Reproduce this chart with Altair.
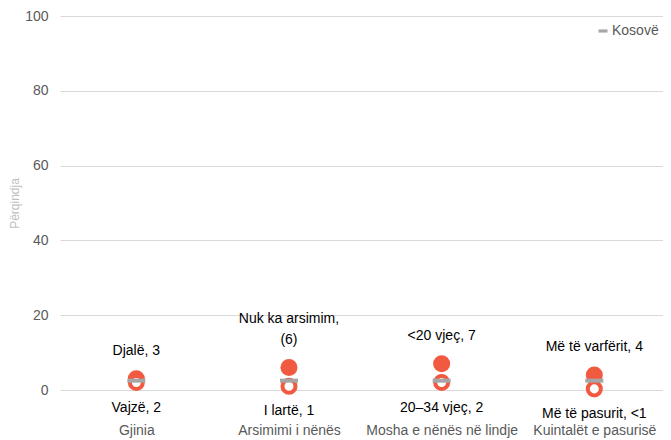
import altair as alt
import pandas as pd

categories = ["Gjinia", "Arsimimi i nënës", "Mosha e nënës në lindje", "Kuintalët e pasurisë"]
high_values = [3, 6, 7, 4]
high_labels = ["Djalë, 3", "Nuk ka arsimim,\n(6)", "<20 vjeç, 7", "Më të varfërit, 4"]
low_values = [2, 1, 2, 0.3]
low_labels = ["Vajzë, 2", "I lartë, 1", "20–34 vjeç, 2", "Më të pasurit, <1"]
kosovo_values = [2.5, 2.5, 2.5, 2.5]
y_ticks = [0, 20, 40, 60, 80, 100]

RED = "#F15A40"
GRAY = "#A6A6A6"
FONT = "Liberation Sans"

df = pd.DataFrame({
    "idx": list(range(len(categories))),
    "cat": categories,
    "high": high_values,
    "high_last": [s.split("\n")[-1] for s in high_labels],
    "high_first": ["\n".join(s.split("\n")[:-1]) for s in high_labels],
    "low": low_values,
    "low_label": low_labels,
    "kos": kosovo_values,
    "series": ["Kosovë"] * len(categories),
})

label_expr = "[" + ",".join("'" + c + "'" for c in categories) + "][datum.value]"

xs = alt.X(
    "idx:Q",
    scale=alt.Scale(domain=[-0.5, 3.45], nice=False, zero=False),
    axis=alt.Axis(
        values=list(range(len(categories))), labelExpr=label_expr, title=None,
        grid=False, ticks=False, domain=False, labelPadding=33,
        labelFontSize=14, labelColor="#595959", labelFont=FONT,
    ),
)

base = alt.Chart(df)

ys_axis = alt.Axis(
    values=y_ticks, title="Përqindja", titleColor="#BFBFBF", titleFontSize=12,
    titleFontWeight="normal", titleFont=FONT, titlePadding=3,
    labelFontSize=14, labelColor="#595959", labelFont=FONT, labelPadding=12,
    ticks=False, domain=False, gridColor="#D9D9D9", gridWidth=1,
)

grid = base.mark_point(opacity=0).encode(
    x=xs,
    y=alt.Y("high:Q", scale=alt.Scale(domain=[0, 100], nice=False), axis=ys_axis),
)

high_pts = base.mark_circle(size=290, opacity=1, color=RED).encode(
    x="idx:Q", y="high:Q"
)
low_pts = base.mark_point(size=170, filled=False, fill="white", fillOpacity=1,
                          stroke=RED, strokeWidth=4, opacity=1, shape="circle").encode(
    x="idx:Q", y="low:Q"
)
kos = base.mark_tick(orient="horizontal", size=18, thickness=4, opacity=1).encode(
    x="idx:Q", y="kos:Q",
    color=alt.Color(
        "series:N",
        scale=alt.Scale(domain=["Kosovë"], range=[GRAY]),
        legend=alt.Legend(
            title=None, orient="none", legendX=536, legendY=8,
            symbolType="M-1,-0.35L1,-0.35L1,0.35L-1,0.35Z", symbolSize=80,
            symbolStrokeWidth=0, labelFontSize=14, labelColor="#595959",
            labelFont=FONT, labelOffset=2,
        ),
    ),
)

high_txt = base.mark_text(baseline="bottom", dy=-21, fontSize=14, font=FONT,
                          color="#000000", align="center").encode(
    x="idx:Q", y="high:Q", text="high_last:N"
)
high_txt2 = base.mark_text(baseline="bottom", dy=-42, fontSize=14, font=FONT,
                           color="#000000", align="center").encode(
    x="idx:Q", y="high:Q", text="high_first:N"
)
low_txt = base.mark_text(baseline="top", dy=18, fontSize=14, font=FONT,
                         color="#000000", align="center").encode(
    x="idx:Q", y="low:Q", text="low_label:N"
)

chart = alt.layer(grid, high_pts, low_pts, kos, high_txt, high_txt2, low_txt).properties(
    width=603, height=374,
    padding={"left": 52, "top": 8, "right": 0, "bottom": 48},
    autosize="none",
).configure_view(stroke=None)

chart.save("out.html", embed_options={"renderer": "svg", "actions": False})
